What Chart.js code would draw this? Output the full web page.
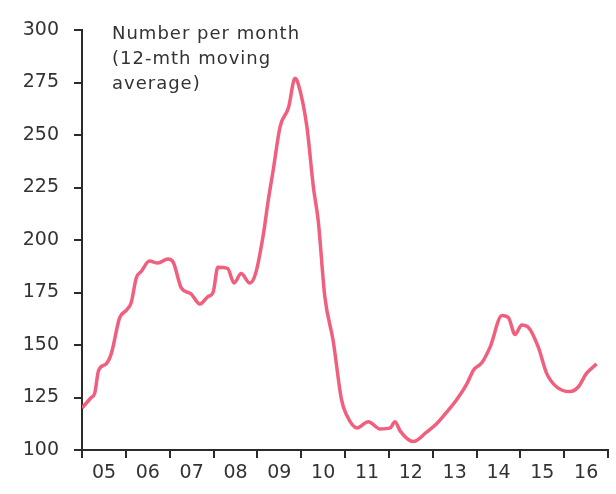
<!DOCTYPE html>
<html>
<head>
<meta charset="utf-8">
<script src="https://cdn.jsdelivr.net/npm/chart.js@4"></script>
<style>
  body { margin: 0; background: #fff; }
  #chart { display: block; }
</style>
</head>
<body>
<canvas id="chart" width="616" height="494"></canvas>
<script>
// time in decimal years
const dates = [2005.00, 2005.21, 2005.29, 2005.38, 2005.55, 2005.67, 2005.86, 2006.01, 2006.12, 2006.24,
  2006.35, 2006.54, 2006.73, 2006.96, 2007.08, 2007.27, 2007.48, 2007.69, 2007.87, 2007.99,
  2008.10, 2008.32, 2008.47, 2008.63, 2008.83, 2008.96, 2009.14, 2009.25, 2009.36, 2009.52,
  2009.71, 2009.86, 2009.93, 2010.13, 2010.28, 2010.39, 2010.54, 2010.73, 2010.92, 2011.04,
  2011.27, 2011.53, 2011.80, 2012.03, 2012.14, 2012.26, 2012.56, 2012.86, 2013.09, 2013.32,
  2013.55, 2013.78, 2013.93, 2014.12, 2014.31, 2014.58, 2014.73, 2014.88, 2015.03, 2015.18,
  2015.41, 2015.60, 2015.83, 2016.13, 2016.32, 2016.51, 2016.74];
const values = [120, 125, 127, 138, 141, 146, 163, 166.5, 170, 182,
  185, 190, 189, 191, 189.5, 177, 174.5, 169.5, 173, 175,
  187, 186.5, 179.5, 184, 179.5, 184, 203, 219, 233, 254,
  263, 277, 274.5, 254, 225, 209, 173, 152, 124, 116.5,
  110.5, 113.5, 110, 110.5, 113.5, 109, 104, 108.5, 112.5, 118,
  124, 131.5, 138, 141.5, 149, 164, 163, 155, 159.5, 158.5,
  149, 136.5, 130, 127.8, 130, 136.5, 141];
const yearTicks = ['05', '06', '07', '08', '09', '10', '11', '12', '13', '14', '15', '16'];
const noteLines = ['Number per month', '(12-mth moving', 'average)'];

const points = dates.map((d, i) => ({ x: d, y: values[i] }));
const axisColor = '#2b2b2b';
const textColor = '#333';
const fontFamily = '"DejaVu Sans", sans-serif';

// the little note in the top left corner
const notePlugin = {
  id: 'note',
  afterDraw(c) {
    const ctx = c.ctx;
    ctx.save();
    ctx.fillStyle = textColor;
    ctx.font = '18px ' + fontFamily;
    ctx.letterSpacing = '1px';
    ctx.textBaseline = 'alphabetic';
    noteLines.forEach((t, i) => ctx.fillText(t, 112, 39 + i * 25));
    ctx.restore();
  }
};

new Chart(document.getElementById('chart'), {
  type: 'line',
  data: {
    datasets: [{
      data: points,
      borderColor: '#f0607e',
      borderWidth: 3.5,
      pointRadius: 0,
      cubicInterpolationMode: 'monotone',
      fill: false
    }]
  },
  options: {
    responsive: false,
    animation: false,
    layout: { padding: { top: 30, right: 8, left: 0, bottom: 0 } },
    plugins: { legend: { display: false }, tooltip: { enabled: false } },
    scales: {
      x: {
        type: 'linear',
        min: 2005,
        max: 2017,
        afterFit: s => { s.height = 44; },
        border: { color: axisColor, width: 2 },
        grid: { drawOnChartArea: false, drawTicks: true, tickLength: 8, color: axisColor, lineWidth: 2 },
        ticks: {
          stepSize: 1,
          autoSkip: false,
          maxRotation: 0,
          labelOffset: 22,
          padding: 4,
          color: textColor,
          font: { family: fontFamily, size: 19 },
          callback: v => yearTicks[v - 2005] || ''
        }
      },
      y: {
        min: 100,
        max: 300,
        afterFit: s => { s.width = 82; },
        border: { color: axisColor, width: 2 },
        grid: { drawOnChartArea: false, drawTicks: true, tickLength: 8, color: axisColor, lineWidth: 2 },
        ticks: {
          stepSize: 25,
          padding: 15,
          color: textColor,
          font: { family: fontFamily, size: 19 }
        }
      }
    }
  },
  plugins: [notePlugin]
});
</script>
</body>
</html>
